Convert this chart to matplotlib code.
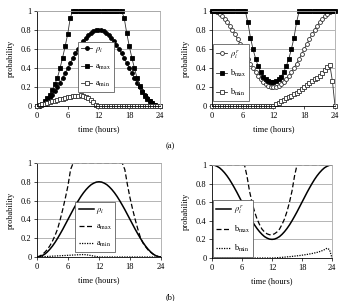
import numpy as np
import matplotlib.pyplot as plt

plt.rcParams['font.family'] = ['Liberation Serif', 'DejaVu Serif']
plt.rcParams['mathtext.fontset'] = 'stix'
plt.rcParams['font.size'] = 6

# time grid (every half hour)
t = np.arange(0, 24.5, 0.5)

rho_i = [0, 0.003, 0.014, 0.030, 0.054, 0.083, 0.117, 0.156, 0.200, 0.247, 0.296, 0.348,
         0.400, 0.452, 0.504, 0.553, 0.600, 0.644, 0.683, 0.717, 0.746, 0.770, 0.786, 0.797,
         0.800,
         0.797, 0.786, 0.770, 0.746, 0.717, 0.683, 0.644, 0.600, 0.553, 0.504, 0.452, 0.400,
         0.348, 0.296, 0.247, 0.200, 0.156, 0.117, 0.083, 0.054, 0.030, 0.014, 0.003, 0]

rho_r = [1, 0.997, 0.986, 0.970, 0.946, 0.917, 0.883, 0.844, 0.800, 0.753, 0.704, 0.652,
         0.600, 0.548, 0.496, 0.447, 0.400, 0.356, 0.317, 0.283, 0.254, 0.230, 0.214, 0.203,
         0.200,
         0.203, 0.214, 0.230, 0.254, 0.283, 0.317, 0.356, 0.400, 0.447, 0.496, 0.548, 0.600,
         0.652, 0.704, 0.753, 0.800, 0.844, 0.883, 0.917, 0.946, 0.970, 0.986, 0.997, 1]

a_max = [0, 0.01, 0.025, 0.05, 0.08, 0.12, 0.17, 0.23, 0.30, 0.40, 0.51, 0.63, 0.76, 0.93,
         1, 1, 1, 1, 1, 1, 1, 1, 1, 1, 1, 1, 1, 1, 1, 1, 1, 1, 1, 1,
         0.93, 0.77, 0.63, 0.51, 0.40, 0.30, 0.21, 0.15, 0.11, 0.075, 0.05, 0.03, 0.015, 0.005, 0]

a_min = [0, 0.008, 0.016, 0.024, 0.032, 0.04, 0.048, 0.056, 0.063, 0.07, 0.077, 0.084,
         0.09, 0.096, 0.101, 0.106, 0.11, 0.112, 0.11, 0.10, 0.085, 0.065, 0.04, 0.015, 0,
         0, 0, 0, 0, 0, 0, 0, 0, 0, 0, 0, 0, 0, 0, 0, 0, 0, 0, 0, 0, 0, 0, 0, 0]

b_max = [1, 1, 1, 1, 1, 1, 1, 1, 1, 1, 1, 1, 1, 1,
         0.88, 0.72, 0.60, 0.50, 0.42, 0.36, 0.31, 0.28, 0.26, 0.25, 0.25, 0.26, 0.28, 0.31,
         0.36, 0.42, 0.50, 0.60, 0.72, 0.88,
         1, 1, 1, 1, 1, 1, 1, 1, 1, 1, 1, 1, 1, 1, 1]

b_min = [0, 0, 0, 0, 0, 0, 0, 0, 0, 0, 0, 0, 0, 0, 0, 0, 0, 0, 0, 0, 0, 0, 0, 0,
         0, 0.02, 0.035, 0.05, 0.065, 0.08, 0.095, 0.11, 0.125, 0.14, 0.16, 0.18, 0.20,
         0.22, 0.24, 0.26, 0.28, 0.30, 0.32, 0.35, 0.38, 0.41, 0.43, 0.26, 0]

# case (b)
a_min_b = [0, 0.001, 0.003, 0.004, 0.006, 0.007, 0.009, 0.010, 0.012, 0.013, 0.015, 0.016,
           0.018, 0.019, 0.021, 0.022, 0.024, 0.025, 0.026, 0.024, 0.02, 0.015, 0.01, 0.005, 0,
           0, 0, 0, 0, 0, 0, 0, 0, 0, 0, 0, 0, 0, 0, 0, 0, 0, 0, 0, 0, 0, 0, 0, 0]

b_min_b = [0, 0, 0, 0, 0, 0, 0, 0, 0, 0, 0, 0, 0, 0, 0, 0, 0, 0, 0, 0, 0, 0, 0, 0,
           0, 0.001, 0.003, 0.005, 0.007, 0.009, 0.012, 0.014, 0.017, 0.02, 0.023, 0.026,
           0.03, 0.034, 0.038, 0.043, 0.048, 0.054, 0.06, 0.068, 0.078, 0.09, 0.105, 0.09, 0]

xticks = [0, 6, 12, 18, 24]
yticks = [0, 0.2, 0.4, 0.6, 0.8, 1]
yticklabels = ['0', '0.2', '0.4', '0.6', '0.8', '1']

lab_rho = r'$\rho_i$'
lab_rhor = r'$\rho_i^r$'
lab_amax = r'a$_{\rm max}$'
lab_amin = r'a$_{\rm min}$'
lab_bmax = r'b$_{\rm max}$'
lab_bmin = r'b$_{\rm min}$'

fig = plt.figure(figsize=(3.4, 3.01), dpi=100)


def style(ax):
    ax.set_xlim(0, 24)
    ax.set_ylim(0, 1)
    ax.set_xticks(xticks)
    ax.set_yticks(yticks)
    ax.set_yticklabels(yticklabels)
    ax.grid(axis='y', color='#a8a8a8', linewidth=0.6)
    ax.set_axisbelow(True)
    for s in ['top', 'right']:
        ax.spines[s].set_color('#a8a8a8')
        ax.spines[s].set_linewidth(0.6)
    for s in ['left', 'bottom']:
        ax.spines[s].set_color('black')
        ax.spines[s].set_linewidth(0.6)
    ax.tick_params(length=2, width=0.5, pad=2, labelsize=6)
    ax.set_xlabel('time (hours)', fontsize=6, labelpad=4)
    ax.set_ylabel('probability', fontsize=6, labelpad=4)


def legend(ax, x0, y0, hl=1.3):
    leg = ax.legend(loc='lower left', bbox_to_anchor=(x0, y0), fontsize=6,
                    handlelength=hl, labelspacing=0.9, handletextpad=0.3,
                    borderpad=0.4, borderaxespad=0, frameon=True, fancybox=False,
                    framealpha=1)
    leg.get_frame().set_edgecolor('#606060')
    leg.get_frame().set_linewidth(0.6)


lc = '#303030'
mk = dict(markersize=2.8, markeredgewidth=0.6, clip_on=False, linewidth=0.6, color=lc)

# (a) left
ax1 = fig.add_axes([0.1088, 0.6478, 0.3618, 0.3156])
ax1.plot(t, rho_i, marker='o', mfc='black', mec='black', label=lab_rho, **mk)
ax1.plot(t, a_max, marker='s', mfc='black', mec='black', label=lab_amax, **mk)
ax1.plot(t, a_min, marker='s', mfc='white', mec='#303030', label=lab_amin, **mk)
style(ax1)
legend(ax1, 0.333, 0.147)

# (a) right
ax2 = fig.add_axes([0.6235, 0.6478, 0.3618, 0.3156])
ax2.plot(t, rho_r, marker='o', mfc='white', mec='#303030', label=lab_rhor, **mk)
ax2.plot(t, b_max, marker='s', mfc='black', mec='black', label=lab_bmax, **mk)
ax2.plot(t, b_min, marker='s', mfc='white', mec='#303030', label=lab_bmin, **mk)
style(ax2)
legend(ax2, 0.008, 0.05)

# (b) left
ax3 = fig.add_axes([0.1088, 0.1462, 0.3647, 0.3123])
ax3.plot(t, rho_i, color='black', linewidth=1.1, label=lab_rho)
ax3.plot(t, a_max, color='black', linewidth=0.9, linestyle=(0, (4, 2)), label=lab_amax)
ax3.plot(t, a_min_b, color='black', linewidth=0.9, linestyle=(0, (1, 1)), label=lab_amin)
style(ax3)
legend(ax3, 0.31, 0.05, hl=1.8)

# (b) right
ax4 = fig.add_axes([0.6235, 0.1429, 0.353, 0.309])
ax4.plot(t, rho_r, color='black', linewidth=1.1, label=lab_rhor)
ax4.plot(t, b_max, color='black', linewidth=0.9, linestyle=(0, (4, 2)), label=lab_bmax)
ax4.plot(t, b_min_b, color='black', linewidth=0.9, linestyle=(0, (1, 1)), label=lab_bmin)
style(ax4)
legend(ax4, 0.008, 0.01, hl=1.8)

fig.text(0.5, 1 - 146 / 301, '(a)', ha='center', va='center', fontsize=6)
fig.text(0.5, 1 - 297 / 301, '(b)', ha='center', va='center', fontsize=6)

fig.savefig('out.png', dpi=100)
